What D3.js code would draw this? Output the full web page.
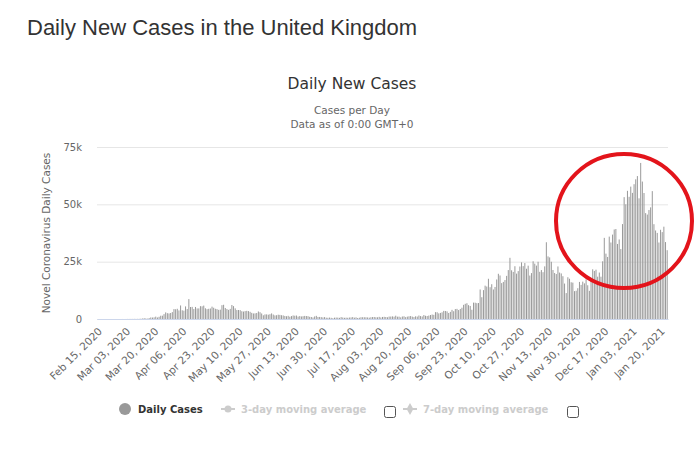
<!DOCTYPE html>
<html><head><meta charset="utf-8">
<script src="https://cdn.jsdelivr.net/npm/d3@7"></script>
<style>body{margin:0;background:#fff}svg{display:block}</style>
</head><body>
<svg id="c" width="700" height="460"></svg>
<script>
// ---- data (UK daily new cases) ----
const startDate = "2020-02-15";
const feb2020 = [0,0,0,0,0,0,0,0,0,4,0,0,0,3,3];
const mar2020 = [12,4,11,34,30,48,43,67,48,61,74,134,208,342,251,152,407,676,643,714,1035,665,967,1427,1452,2129,2885,2546,2433,2619,3009];
const apr2020 = [4324,4244,4450,3735,5903,3802,3634,5491,4344,8681,5233,5288,4342,5252,4603,4617,5599,5525,5850,4676,4301,4451,4583,5386,4913,4463,4309,3996,4076,6032];
const may2020 = [6201,4806,4339,3985,4406,6111,5614,4649,3896,3923,3877,3403,3242,3446,3560,3451,3142,2684,2412,2472,2615,3287,2959,2409,1625,2004,2013,1887,2095,2445,1936];
const jun2020 = [1570,1653,1871,1805,1650,1557,1326,1205,1387,1003,1266,1541,1425,1514,1056,1279,1115,1218,1346,1295,1221,958,874,653,1118,1380,890,901,815,689];
const jul2020 = [829,576,544,624,516,352,581,630,612,512,820,650,530,598,538,642,687,827,580,725,445,560,769,768,767,742,685,581,763,846,880];
const aug2020 = [743,744,938,670,892,950,871,758,1062,1063,1148,1009,1441,1012,1040,713,1089,1182,812,1033,1182,1288,1041,853,1184,1048,1522,1276,1108,1715,1406];
const sep2020 = [1295,1508,1735,1940,1813,2988,2948,2460,2659,2919,3539,3497,3330,2621,3105,3991,3395,4322,4422,3899,4368,4926,6178,6634,6874,6042,5693,4044,7143,7108];
const oct2020 = [6914,6968,12872,9500,12594,14542,14162,17540,13864,15166,12872,13972,17234,19724,18980,15650,16171,16982,18804,21331,26688,21242,20530,23012,19790,20890,22885,24701,23065,24405,21915];
const nov2020 = [23254,18950,20018,25177,24141,23287,24957,20572,21350,20412,22950,33470,27301,26860,24962,21363,20051,19609,22915,20252,19875,18662,15450,11299,18213,17555,16022,15871,12155,12330];
const dec2020 = [13430,16170,14879,16298,15539,17272,14718,12282,16578,21672,20964,21502,18447,20263,18450,25161,35383,28507,27052,35928,33364,36804,39036,39237,32725,34693,30501,41385,53135,50023,55892];
const jan2021 = [53285,57725,54990,58784,60916,62322,52618,68053,59937,54940,46169,45533,47525,48682,55761,41346,38598,37535,33355,38905,37892,40261,33552,30004];

const tickLabels = ["Feb 15, 2020","Mar 03, 2020","Mar 20, 2020","Apr 06, 2020","Apr 23, 2020","May 10, 2020","May 27, 2020","Jun 13, 2020","Jun 30, 2020","Jul 17, 2020","Aug 03, 2020","Aug 20, 2020","Sep 06, 2020","Sep 23, 2020","Oct 10, 2020","Oct 27, 2020","Nov 13, 2020","Nov 30, 2020","Dec 17, 2020","Jan 03, 2021","Jan 20, 2021"];
const yTickValues = [0,25000,50000,75000];
const yTickLabels = ["0","25k","50k","75k"];

// ---- build ----
const cases = [].concat(feb2020,mar2020,apr2020,may2020,jun2020,jul2020,aug2020,sep2020,oct2020,nov2020,dec2020,jan2021);
const fmt = d3.timeFormat("%b %d, %Y");
const start = d3.timeParse("%Y-%m-%d")(startDate);
const categories = cases.map((_, i) => fmt(d3.timeDay.offset(start, i)));

const svg = d3.select("#c");
const font = "'DejaVu Sans', Verdana, sans-serif";
const L = 97, R = 668, T = 147, B = 319;

const x = d3.scaleBand().domain(categories).range([L, R]).paddingInner(0).paddingOuter(0);
const y = d3.scaleLinear().domain([0, 75000]).range([B, T]);

// page title
svg.append("text").attr("x", 27).attr("y", 35)
  .attr("font-family", "'Liberation Sans', Arial, sans-serif").attr("font-size", 22)
  .attr("fill", "#333").text("Daily New Cases in the United Kingdom");

// chart title & subtitles
svg.append("text").attr("x", 352).attr("y", 89).attr("text-anchor", "middle")
  .attr("font-family", font).attr("font-size", 15.5).attr("fill", "#333").text("Daily New Cases");
svg.append("text").attr("x", 352).attr("y", 114).attr("text-anchor", "middle")
  .attr("font-family", font).attr("font-size", 10.5).attr("fill", "#666").text("Cases per Day");
svg.append("text").attr("x", 352).attr("y", 128).attr("text-anchor", "middle")
  .attr("font-family", font).attr("font-size", 10.5).attr("fill", "#666").text("Data as of 0:00 GMT+0");

// grid + y axis
const yAxis = d3.axisLeft(y).tickValues(yTickValues).tickSize(-(R - L))
  .tickFormat((d, i) => yTickLabels[i]).tickPadding(15);
const gy = svg.append("g").attr("transform", `translate(${L},0)`).call(yAxis);
gy.select(".domain").remove();
gy.selectAll(".tick line").attr("stroke", "#e6e6e6");
gy.selectAll(".tick text").attr("font-family", font).attr("font-size", 10).attr("fill", "#666");

svg.append("text").attr("transform", `translate(50,${(T + B) / 2}) rotate(-90)`)
  .attr("text-anchor", "middle").attr("font-family", font).attr("font-size", 10.5)
  .attr("fill", "#666").text("Novel Coronavirus Daily Cases");

// bars
const bw = x.bandwidth() * 0.6;
svg.append("g").selectAll("rect").data(cases).join("rect")
  .attr("x", (d, i) => x(categories[i]) + (x.bandwidth() - bw) / 2)
  .attr("width", bw)
  .attr("y", d => y(d))
  .attr("height", d => B - y(d))
  .attr("fill", "#999");

// x axis
const xAxis = d3.axisBottom(x).tickValues(tickLabels).tickSize(0).tickPadding(0);
const gx = svg.append("g").attr("transform", `translate(0,${B})`).call(xAxis);
gx.select(".domain").attr("stroke", "#ccd6eb");
gx.selectAll(".tick text")
  .attr("font-family", font).attr("font-size", 10.5).attr("fill", "#666")
  .attr("text-anchor", "end").attr("dy", 0)
  .attr("transform", "translate(5,13) rotate(-45)");

// legend
const ly = 409;
const lg = svg.append("g").attr("font-family", font).attr("font-size", 10).attr("font-weight", "bold");
lg.append("circle").attr("cx", 125).attr("cy", ly).attr("r", 6).attr("fill", "#999");
lg.append("text").attr("x", 138).attr("y", ly + 4).attr("fill", "#333").text("Daily Cases");
lg.append("line").attr("x1", 221).attr("x2", 235).attr("y1", ly).attr("y2", ly).attr("stroke", "#ccc").attr("stroke-width", 2);
lg.append("circle").attr("cx", 228).attr("cy", ly).attr("r", 3.5).attr("fill", "#ccc");
lg.append("text").attr("x", 241).attr("y", ly + 4).attr("fill", "#ccc").text("3-day moving average");
lg.append("rect").attr("x", 384.5).attr("y", 406.5).attr("width", 11).attr("height", 11).attr("rx", 2)
  .attr("fill", "#fff").attr("stroke", "#555");
lg.append("line").attr("x1", 403).attr("x2", 417).attr("y1", ly).attr("y2", ly).attr("stroke", "#ccc").attr("stroke-width", 2);
lg.append("path").attr("d", d3.symbol(d3.symbolDiamond, 40)()).attr("transform", `translate(410,${ly})`).attr("fill", "#ccc");
lg.append("text").attr("x", 423).attr("y", ly + 4).attr("fill", "#ccc").text("7-day moving average");
lg.append("rect").attr("x", 567.5).attr("y", 406.5).attr("width", 11).attr("height", 11).attr("rx", 2)
  .attr("fill", "#fff").attr("stroke", "#555");

// red annotation circle
svg.append("ellipse").attr("cx", 624).attr("cy", 221).attr("rx", 68).attr("ry", 67)
  .attr("fill", "none").attr("stroke", "#e3141b").attr("stroke-width", 4);
</script>
</body></html>
